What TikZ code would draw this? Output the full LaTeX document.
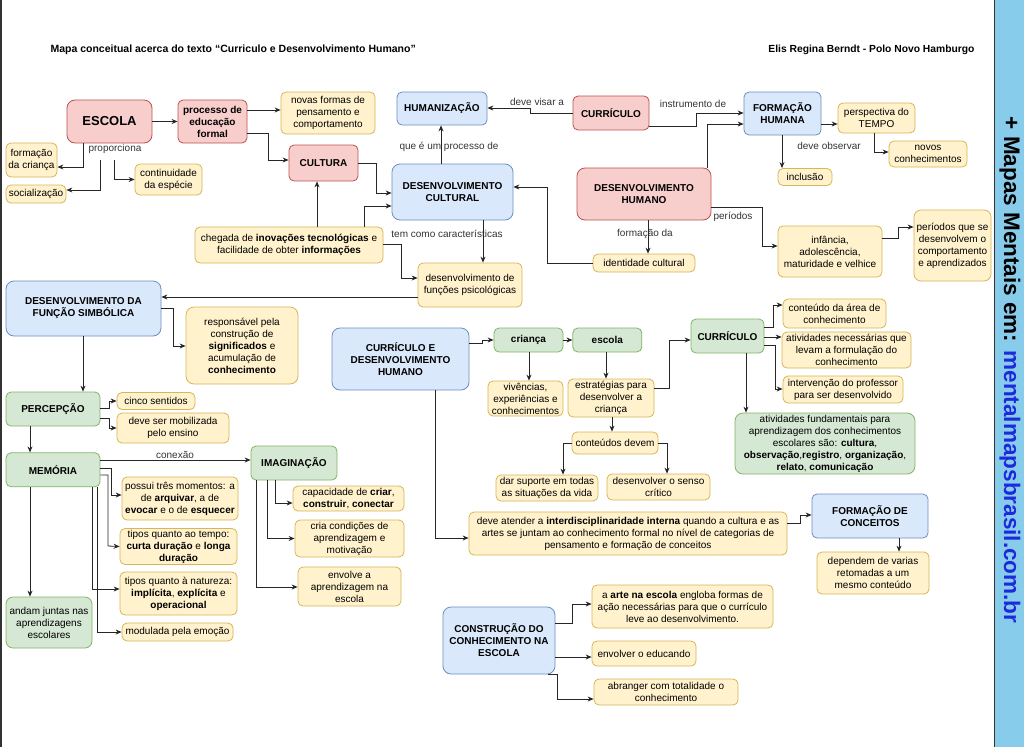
\documentclass[tikz,border=0pt]{standalone}
\usepackage{fontspec}
\setmainfont{Liberation Sans}
\usetikzlibrary{arrows.meta, positioning}

\definecolor{pinkfill}{HTML}{F8CECC}
\definecolor{pinkline}{HTML}{B85450}
\definecolor{yelfill}{HTML}{FFF2CC}
\definecolor{yelline}{HTML}{D6B656}
\definecolor{bluefill}{HTML}{DAE8FC}
\definecolor{blueline}{HTML}{6C8EBF}
\definecolor{greenfill}{HTML}{D5E8D4}
\definecolor{greenline}{HTML}{82B366}
\definecolor{stripblue}{RGB}{135,205,235}
\definecolor{linkblue}{RGB}{30,40,220}

\begin{document}
\begin{tikzpicture}[x=1pt, y=-1pt, font=\fontsize{10}{12}\selectfont,
        box/.style={draw, rounded corners=5pt, line width=0.8pt, align=center, inner xsep=1.5pt, inner ysep=1pt},
        sz/.style 2 args={minimum width=#1pt, minimum height=#2pt},
        pinkbox/.style={box, fill=pinkfill, draw=pinkline, font=\fontsize{10}{12}\selectfont\bfseries},
        bluebox/.style={box, fill=bluefill, draw=blueline, font=\fontsize{10}{12}\selectfont\bfseries},
        greenbox/.style={box, fill=greenfill, draw=greenline},
        greenhead/.style={greenbox, font=\fontsize{10}{12}\selectfont\bfseries},
        yelbox/.style={box, fill=yelfill, draw=yelline},
        lbl/.style={text=black!80, inner sep=0pt},
        link/.style={draw=black!85, line width=0.8pt, -{Stealth[length=6pt, width=5pt]}}]
    \useasboundingbox (0,0) rectangle (1024,747);
    \fill[stripblue] (995,0) rectangle (1024,747);
    \draw[black!80, line width=1.2pt] (994.5,0) -- (994.5,747);
    \draw[black!80, line width=1.6pt] (0.8,0) -- (0.8,747);
    \node[rotate=-90, font=\fontsize{22.5}{27}\selectfont\bfseries] (site) at (1010,370)
        {+ Mapas Mentais em: \textcolor{linkblue}{mentalmapsbrasil.com.br}};

    \node[anchor=west, font=\fontsize{10.5}{12}\selectfont\bfseries] (titulo) at (47,50)
        {Mapa conceitual acerca do texto “Curriculo e Desenvolvimento Humano”};
    \node[anchor=east, font=\fontsize{10.3}{12}\selectfont\bfseries] (autora) at (978,50)
        {Elis Regina Berndt - Polo Novo Hamburgo};

    \node[pinkbox, sz={85}{43}, rounded corners=8pt, font=\fontsize{13}{15}\selectfont\bfseries] (escola) at (109.5,121.5) {ESCOLA};
    \node[pinkbox, sz={69}{43}] (processo) at (212.5,121.5) {processo de\\educação\\formal};
    \node[yelbox, sz={94}{42}] (novas) at (328,113) {novas formas de\\pensamento e\\comportamento};
    \node[pinkbox, sz={69}{36}] (cultura) at (323.5,163) {CULTURA};
    \node[yelbox, sz={51}{34}] (fcrianca) at (31.5,160) {formação\\da criança};
    \node[yelbox, sz={60}{18}] (socializ) at (36,194) {socialização};
    \node[yelbox, sz={67}{31}] (continuidade) at (168.5,179.5) {continuidade\\da espécie};
    \node[lbl, minimum height=22pt] (proporciona) at (115,149) {proporciona};

    \node[bluebox, sz={90}{33}] (humanizacao) at (442,108.5) {HUMANIZAÇÃO};
    \node[pinkbox, sz={76}{34}] (curriculo) at (611,113) {CURRÍCULO};
    \node[bluebox, sz={77}{43}] (fhumana) at (782.5,113.5) {FORMAÇÃO\\HUMANA};
    \node[yelbox, sz={77}{30}] (perspectiva) at (876.5,118) {perspectiva do\\TEMPO};
    \node[yelbox, sz={78}{26}] (novos) at (928,154) {novos\\conhecimentos};
    \node[yelbox, sz={54}{17}] (inclusao) at (805,177) {inclusão};
    \node[bluebox, sz={121}{56}, rounded corners=8pt] (dcultural) at (452.5,192) {DESENVOLVIMENTO\\CULTURAL};
    \node[pinkbox, sz={134}{52}, rounded corners=8pt] (dhumano) at (644,194) {DESENVOLVIMENTO\\HUMANO};
    \node[yelbox, sz={102}{18}] (identidade) at (644,263) {identidade cultural};
    \node[yelbox, sz={104}{51}] (infancia) at (830,251.5) {infância,\\adolescência,\\maturidade e velhice};
    \node[yelbox, sz={77}{71}, rounded corners=7pt] (periodos) at (952.5,245.5) {períodos que se\\desenvolvem o\\comportamento\\e aprendizados};

    \node[yelbox, sz={188}{36}] (chegada) at (289,245) {chegada de \textbf{inovações tecnológicas} e\\facilidade de obter \textbf{informações}};
    \node[yelbox, sz={104}{44}] (funcoes) at (470,285) {desenvolvimento de\\funções psicológicas};
    \node[bluebox, sz={155}{55}, rounded corners=8pt] (dsimbolica) at (83.5,308.5) {DESENVOLVIMENTO DA\\FUNÇÃO SIMBÓLICA};
    \node[yelbox, sz={112}{77}, rounded corners=8pt] (responsavel) at (242,345.5) {responsável pela\\construção de\\\textbf{significados} e\\acumulação de\\\textbf{conhecimento}};

    \node[bluebox, sz={137}{62}, rounded corners=8pt] (cdh) at (400.5,359) {CURRÍCULO E\\DESENVOLVIMENTO\\HUMANO};
    \node[greenhead, sz={69}{24}] (crianca) at (528.5,340) {criança};
    \node[greenhead, sz={69}{24}, right=9pt of crianca] (escolab) {escola};
    \node[yelbox, sz={75}{35}] (vivencias) at (525.5,398.5) {vivências,\\experiências e\\conhecimentos};
    \node[yelbox, sz={86}{38}] (estrategias) at (611,398) {estratégias para\\desenvolver a\\criança};
    \node[yelbox, sz={86}{22}] (conteudos) at (615,443) {conteúdos devem};
    \node[yelbox, sz={102}{26}] (suporte) at (547,488) {dar suporte em todas\\as situações da vida};
    \node[yelbox, sz={103}{26}] (senso) at (658.5,487) {desenvolver o senso\\crítico};

    \node[greenhead, sz={73}{34}] (curriculob) at (727.5,336) {CURRÍCULO};
    \node[yelbox, sz={103}{29}] (area) at (834.5,313.5) {conteúdo da área de\\conhecimento};
    \node[yelbox, sz={129}{36}] (necessarias) at (846.5,350) {atividades necessárias que\\levam a formulação do\\conhecimento};
    \node[yelbox, sz={120}{27}] (intervencao) at (843,389.5) {intervenção do professor\\para ser desenvolvido};
    \node[greenbox, sz={180}{61}, rounded corners=8pt] (fundamentais) at (825,443.5) {atividades fundamentais para\\aprendizagem dos conhecimentos\\escolares são: \textbf{cultura},\\\textbf{observação},\textbf{registro}, \textbf{organização},\\\textbf{relato}, \textbf{comunicação}};

    \node[greenhead, sz={94}{34}] (percepcao) at (53,409) {PERCEPÇÃO};
    \node[yelbox, sz={78}{17}] (cinco) at (156,401) {cinco sentidos};
    \node[yelbox, sz={112}{30}] (mobilizada) at (173,428) {deve ser mobilizada\\pelo ensino};
    \node[greenhead, sz={94}{34}, below=26pt of percepcao] (memoria) {MEMÓRIA};
    \node[greenhead, sz={86}{34}] (imaginacao) at (294,463) {IMAGINAÇÃO};
    \node[yelbox, sz={116}{43}] (momentos) at (180,498.5) {possui três momentos: a\\de \textbf{arquivar}, a de\\\textbf{evocar} e o de \textbf{esquecer}};
    \node[yelbox, sz={117}{36}] (tempo) at (178.5,546.5) {tipos quanto ao tempo:\\\textbf{curta duração} e \textbf{longa}\\\textbf{duração}};
    \node[yelbox, sz={117}{43}] (natureza) at (178.5,593.5) {tipos quanto à natureza:\\\textbf{implícita}, \textbf{explícita} e\\\textbf{operacional}};
    \node[yelbox, sz={111}{18}] (modulada) at (177.5,632) {modulada pela emoção};
    \node[greenbox, sz={86}{51}, rounded corners=7pt] (andam) at (49,622.5) {andam juntas nas\\aprendizagens\\escolares};
    \node[yelbox, sz={111}{25}] (capacidade) at (348.5,498.5) {capacidade de \textbf{criar},\\\textbf{construir}, \textbf{conectar}};
    \node[yelbox, sz={109}{37}] (condicoes) at (349.5,538.5) {cria condições de\\aprendizagem e\\motivação};
    \node[yelbox, sz={103}{39}] (envolve) at (349.5,586.5) {envolve a\\aprendizagem na\\escola};

    \node[yelbox, sz={318}{43}] (interdisc) at (628,533.5) {deve atender a \textbf{interdisciplinaridade interna} quando a cultura e as\\artes se juntam ao conhecimento formal no nível de categorias de\\pensamento e formação de conceitos};
    \node[bluebox, sz={116}{44}] (fconceitos) at (870,516) {FORMAÇÃO DE\\CONCEITOS};
    \node[yelbox, sz={112}{42}] (dependem) at (873,573) {dependem de varias\\retomadas a um\\mesmo conteúdo};
    \node[bluebox, sz={112}{67}, rounded corners=8pt] (construcao) at (499,640.5) {CONSTRUÇÃO DO\\CONHECIMENTO NA\\ESCOLA};
    \node[yelbox, sz={181}{43}] (arte) at (682.5,606.5) {a \textbf{arte na escola} engloba formas de\\ação necessárias para que o currículo\\leve ao desenvolvimento.};
    \node[yelbox, sz={104}{25}] (educando) at (644,653.5) {envolver o educando};
    \node[yelbox, sz={144}{26}] (abranger) at (666,692) {abranger com totalidade o\\conhecimento};

    \node[lbl] (visar) at (537,102) {deve visar a};
    \node[lbl] (instrumento) at (693,104) {instrumento de};
    \node[lbl] (processode) at (449,147) {que é um processo de};
    \node[lbl] (caracteristicas) at (447,234) {tem como características};
    \node[lbl] (formacaoda) at (645,234) {formação da};
    \node[lbl] (periodoslbl) at (733,217) {períodos};
    \node[lbl] (observar) at (829,146) {deve observar};
    \node[lbl] (conexao) at (175,455) {conexão};

    \draw[link] (escola.south -| 83,0) |- (fcrianca.east |- 0,167);
    \draw[link] (proporciona.south -| 100,0) |- (socializ.east |- 0,190);
    \draw[link] (proporciona.south -| 114,0) |- (continuidade.west);
    \draw[link] (escola) -- (processo);
    \draw[link] (processo.east |- 0,110) -- (novas.west |- 0,110);
    \draw[link] (processo.east |- 0,133) -| (268,160) -- (cultura.west |- 0,160);
    \draw[link] (cultura.east) -| (376,193) -- (dcultural.west |- 0,193);
    \draw[link] (chegada.north -| 317,0) -- (cultura.south -| 317,0);
    \draw[link] (chegada.north -| 364,0) |- (dcultural.west |- 0,206);
    \draw[link] (chegada.east |- 0,244) -| (401,278) -- (funcoes.west |- 0,278);
    \draw[link] (dcultural.north -| 441,0) -- (humanizacao.south -| 441,0);
    \draw[link] (curriculo.west) -| (530,108) -- (humanizacao.east |- 0,108);
    \draw[link] (curriculo.east |- 0,126) -| (696,113) -- (fhumana.west |- 0,113);
    \draw[link] (dhumano.north -| 707,0) |- (fhumana.west |- 0,124);
    \draw[link] (fhumana.south -| 782,0) -- (inclusao.north -| 782,0);
    \draw[link] (fhumana.east |- 0,124) -- (perspectiva.west |- 0,124);
    \draw[link] (perspectiva.south -| 874,0) |- (novos.west |- 0,152);
    \draw[link] (dhumano.south -| 648,0) -- (identidade.north -| 648,0);
    \draw[link] (identidade.west) -| (547,187) -- (dcultural.east |- 0,187);
    \draw[link] (dcultural.south -| 483,0) -- (funcoes.north -| 483,0);
    \draw[link] (dhumano.east |- 0,207) -| (762,246) -- (infancia.west |- 0,246);
    \draw[link] (infancia.east |- 0,238) -| (898,227) -- (periodos.west |- 0,227);
    \draw[link] (funcoes.west |- 0,297) -- (dsimbolica.east |- 0,297);
    \draw[link] (dsimbolica.east |- 0,308) -| (173,346) -- (responsavel.west |- 0,346);
    \draw[link] (dsimbolica.south -| 83,0) -- (percepcao.north -| 83,0);
    \draw[link] (percepcao.east |- 0,408) -| (109,401) -- (cinco.west);
    \draw[link] (percepcao.east |- 0,418) -| (109,428) -- (mobilizada.west);
    \draw[link] (percepcao.south -| 30,0) -- (memoria.north -| 30,0);
    \draw[link] (memoria.east |- 0,460) -- (imaginacao.west |- 0,460);
    \draw[link] (memoria.east |- 0,468) -| (111,495) -- (momentos.west |- 0,495);
    \draw[link] (memoria.east |- 0,475) -| (108,546) -- (tempo.west);
    \draw[link] (memoria.south -| 92,0) |- (natureza.west |- 0,589);
    \draw[link] (memoria.south -| 97,0) |- (modulada.west);
    \draw[link] (memoria.south -| 30,0) -- (andam.north -| 30,0);
    \draw[link] (imaginacao.south -| 275,0) |- (capacidade.west |- 0,503);
    \draw[link] (imaginacao.south -| 267,0) |- (condicoes.west);
    \draw[link] (imaginacao.south -| 256,0) |- (envolve.west |- 0,587);
    \draw[link] (cdh.east |- 0,343) -| (482,340) -- (crianca.west);
    \draw[link] (crianca) -- (escolab);
    \draw[link] (crianca.south -| 529,0) -- (vivencias.north -| 529,0);
    \draw[link] (escolab.south -| 606,0) -- (estrategias.north -| 606,0);
    \draw[link] (estrategias.east |- 0,388) -| (669,340) -- (curriculob.west |- 0,340);
    \draw[link] (estrategias.south -| 612,0) -- (conteudos.north -| 612,0);
    \draw[link] (conteudos.west) -| (suporte.north -| 563,0);
    \draw[link] (conteudos.east) -| (senso.north -| 667,0);
    \draw[link] (curriculob.east |- 0,327) -| (773,305) -- (area.west |- 0,305);
    \draw[link] (curriculob.east |- 0,337) -- (necessarias.west |- 0,337);
    \draw[link] (curriculob.east |- 0,345) -| (775,389) -- (intervencao.west |- 0,389);
    \draw[link] (curriculob.south -| 746,0) -- (fundamentais.north -| 746,0);
    \draw[link] (cdh.south -| 435,0) |- (interdisc.west |- 0,538);
    \draw[link] (interdisc.east |- 0,523) -| (800,515) -- (fconceitos.west |- 0,515);
    \draw[link] (fconceitos.south -| 899,0) -- (dependem.north -| 899,0);
    \draw[link] (construcao.east |- 0,623) -| (572,604) -- (arte.west |- 0,604);
    \draw[link] (construcao.east |- 0,657) -- (educando.west |- 0,657);
    \draw[link] (construcao.south -| 548,0) -| (557,699) -- (abranger.west |- 0,699);
\end{tikzpicture}
\end{document}
